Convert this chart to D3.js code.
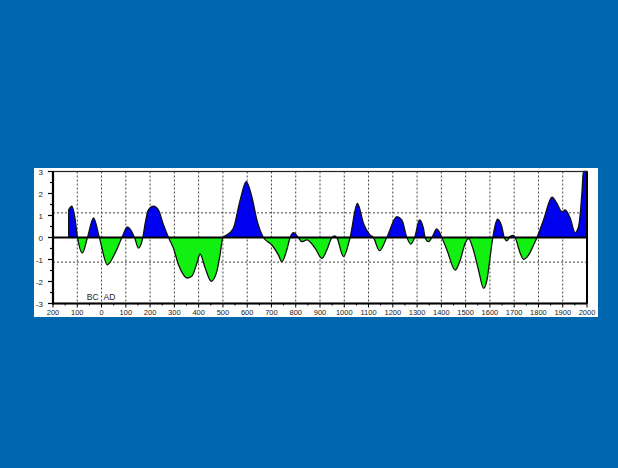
<!DOCTYPE html>
<html>
<head>
<meta charset="utf-8">
<script src="https://cdn.jsdelivr.net/npm/d3@7"></script>
<style>
  body { margin: 0; background: #0066ad; }
  svg { display: block; }
</style>
</head>
<body>
<div id="chart"></div>
<script>
//***************** data *******************/
var years = [-136, -122, -110, -99, -79, -58, -33, -9, 24, 56, 84, 107, 136, 152, 170, 180, 193, 214, 234, 255,
  276, 296, 317, 337, 351, 372, 392, 406, 427, 452, 475, 488, 500, 516, 543, 571, 596, 619, 640, 667,
  702, 729, 743, 763, 777, 791, 811, 825, 846, 880, 908, 928, 949, 960, 969, 997, 1024, 1054, 1079, 1107,
  1120, 1145, 1175, 1217, 1237, 1258, 1274, 1290, 1310, 1326, 1333, 1347, 1361, 1381, 1402, 1423, 1457, 1478, 1498, 1512,
  1532, 1553, 1574, 1588, 1601, 1612, 1631, 1649, 1659, 1670, 1684, 1697, 1704, 1725, 1738, 1759, 1780, 1794, 1821, 1856,
  1876, 1897, 1910, 1931, 1951, 1965, 1979, 1985, 2000];
var values = [1.25, 1.42, 0.9, 0, -0.70, 0, 0.89, 0, -1.24, -0.70, 0, 0.48, 0, -0.48, 0, 0.66, 1.26, 1.43, 1.26, 0.58,
  0, -0.48, -1.24, -1.69, -1.84, -1.76, -1.2, -0.75, -1.39, -1.99, -1.54, -0.8, 0, 0.11, 0.42, 1.7, 2.54, 1.86, 0.8, 0,
  -0.34, -0.8, -1.1, -0.57, 0, 0.22, 0, -0.19, -0.11, -0.49, -0.95, -0.57, 0, 0.07, 0, -0.87, 0, 1.55, 0.65, 0.11,
  0, -0.6, 0, 0.95, 0.8, 0, -0.3, 0, 0.8, 0.42, 0, -0.19, 0, 0.39, 0, -0.57, -1.48, -1.02, -0.26, -0.05,
  -0.57, -1.48, -2.31, -1.93, -0.87, 0, 0.83, 0.49, 0, -0.15, 0.05, 0.1, 0, -0.72, -0.99, -0.8, -0.34, 0, 0.8, 1.83,
  1.55, 1.17, 1.25, 0.87, 0.22, 0.49, 2.0, 3.0, 3.0];
var xTicks = d3.range(-200, 2001, 100);
var yTicks = [3, 2, 1, 0, -1, -2, -3];
var refLines = [1.12, -1.12];
var eraLabels = ["BC", "AD"];

var data = years.map(function(d, i) { return {year: d, value: values[i]}; });

//************* set dimensions ***************/
var W = 618, H = 468;
var panel = {x: 34, y: 168, w: 564, h: 149};
var plot = {left: 53, right: 587, top: 171.5, bottom: 303.5};

var svg = d3.select("#chart").append("svg")
  .attr("width", W)
  .attr("height", H);

svg.append("rect")
  .attr("width", W).attr("height", H)
  .attr("fill", "#0066ad");

svg.append("rect")
  .attr("x", panel.x).attr("y", panel.y)
  .attr("width", panel.w).attr("height", panel.h)
  .attr("fill", "#ffffff");

//***************** scales *******************/
var x = d3.scaleLinear().domain([-200, 2000]).range([plot.left, plot.right]);
var y = d3.scaleLinear().domain([-3, 3]).range([plot.bottom, plot.top]);

//***************** gridlines *******************/
svg.append("g")
  .selectAll("line")
  .data(xTicks.slice(1, -1))
  .enter().append("line")
    .attr("x1", function(d) { return x(d); })
    .attr("x2", function(d) { return x(d); })
    .attr("y1", plot.top).attr("y2", plot.bottom)
    .attr("stroke", "#444")
    .attr("stroke-width", 1)
    .attr("stroke-dasharray", "2,2");

svg.append("g")
  .selectAll("line")
  .data(refLines)
  .enter().append("line")
    .attr("x1", plot.left).attr("x2", plot.right)
    .attr("y1", function(d) { return y(d); })
    .attr("y2", function(d) { return y(d); })
    .attr("stroke", "#444")
    .attr("stroke-width", 1)
    .attr("stroke-dasharray", "2,2");

//***************** areas *******************/
var defs = svg.append("defs");
defs.append("clipPath").attr("id", "above")
  .append("rect")
    .attr("x", plot.left).attr("y", plot.top)
    .attr("width", plot.right - plot.left).attr("height", y(0) - plot.top);
defs.append("clipPath").attr("id", "below")
  .append("rect")
    .attr("x", plot.left).attr("y", y(0))
    .attr("width", plot.right - plot.left).attr("height", plot.bottom - y(0));

var area = d3.area()
  .curve(d3.curveMonotoneX)
  .x(function(d) { return x(d.year); })
  .y0(y(0))
  .y1(function(d) { return y(d.value); });

var line = d3.line()
  .curve(d3.curveMonotoneX)
  .x(function(d) { return x(d.year); })
  .y(function(d) { return y(d.value); });

svg.append("path").datum(data)
  .attr("clip-path", "url(#above)")
  .attr("d", area)
  .attr("fill", "#0000f0");

svg.append("path").datum(data)
  .attr("clip-path", "url(#below)")
  .attr("d", area)
  .attr("fill", "#12f012");

svg.append("path").datum(data)
  .attr("d", line)
  .attr("fill", "none")
  .attr("stroke", "#111")
  .attr("stroke-width", 1.3);

// left edge of the series
svg.append("line")
  .attr("x1", x(years[0])).attr("x2", x(years[0]))
  .attr("y1", y(0)).attr("y2", y(values[0]))
  .attr("stroke", "#111").attr("stroke-width", 1);

// zero line
svg.append("line")
  .attr("x1", plot.left).attr("x2", plot.right)
  .attr("y1", y(0)).attr("y2", y(0))
  .attr("stroke", "#000").attr("stroke-width", 2);

//***************** frame & axes *******************/
svg.append("rect")
  .attr("x", plot.left).attr("y", plot.top)
  .attr("width", plot.right - plot.left).attr("height", plot.bottom - plot.top)
  .attr("fill", "none")
  .attr("stroke", "#222").attr("stroke-width", 1.2);

svg.append("line")
  .attr("x1", plot.left).attr("x2", plot.left)
  .attr("y1", plot.top).attr("y2", plot.bottom + 1)
  .attr("stroke", "#000").attr("stroke-width", 2.2);
svg.append("line")
  .attr("x1", plot.left - 1).attr("x2", plot.right)
  .attr("y1", plot.bottom).attr("y2", plot.bottom)
  .attr("stroke", "#000").attr("stroke-width", 2.2);
svg.append("line")
  .attr("x1", plot.right).attr("x2", plot.right)
  .attr("y1", plot.top).attr("y2", plot.bottom)
  .attr("stroke", "#000").attr("stroke-width", 2);

// y ticks (major + half-unit minor)
svg.append("g")
  .selectAll("line")
  .data(d3.range(-3, 3.01, 0.5))
  .enter().append("line")
    .attr("x1", function(d) { return plot.left - (d % 1 === 0 ? 5 : 3); })
    .attr("x2", plot.left)
    .attr("y1", function(d) { return y(d); })
    .attr("y2", function(d) { return y(d); })
    .attr("stroke", "#000").attr("stroke-width", 1.2);

svg.append("g")
  .selectAll("text")
  .data(yTicks)
  .enter().append("text")
    .attr("x", 43)
    .attr("y", function(d) { return y(d) + 3; })
    .attr("text-anchor", "end")
    .attr("font-family", "Liberation Sans, Arial, sans-serif")
    .attr("font-size", "8px")
    .attr("fill", "#222")
    .text(function(d) { return d; });

// x ticks
svg.append("g")
  .selectAll("line")
  .data(d3.range(-200, 2001, 50))
  .enter().append("line")
    .attr("x1", function(d) { return x(d); })
    .attr("x2", function(d) { return x(d); })
    .attr("y1", plot.bottom)
    .attr("y2", function(d) { return plot.bottom + (d % 100 === 0 ? 4 : 2); })
    .attr("stroke", "#000").attr("stroke-width", 1);

svg.append("g")
  .selectAll("text")
  .data(xTicks)
  .enter().append("text")
    .attr("x", function(d) { return x(d); })
    .attr("y", 315)
    .attr("text-anchor", "middle")
    .attr("font-family", "Liberation Sans, Arial, sans-serif")
    .attr("font-size", "7.5px")
    .attr("fill", "#222")
    .text(function(d) { return Math.abs(d); });

// BC / AD
svg.append("text")
  .attr("x", x(0) - 3).attr("y", 300)
  .attr("text-anchor", "end")
  .attr("font-family", "Liberation Sans, Arial, sans-serif")
  .attr("font-size", "8.5px")
  .attr("fill", "#222")
  .text(eraLabels[0]);
svg.append("text")
  .attr("x", x(0) + 2).attr("y", 300)
  .attr("text-anchor", "start")
  .attr("font-family", "Liberation Sans, Arial, sans-serif")
  .attr("font-size", "8.5px")
  .attr("fill", "#222")
  .text(eraLabels[1]);
</script>
</body>
</html>
